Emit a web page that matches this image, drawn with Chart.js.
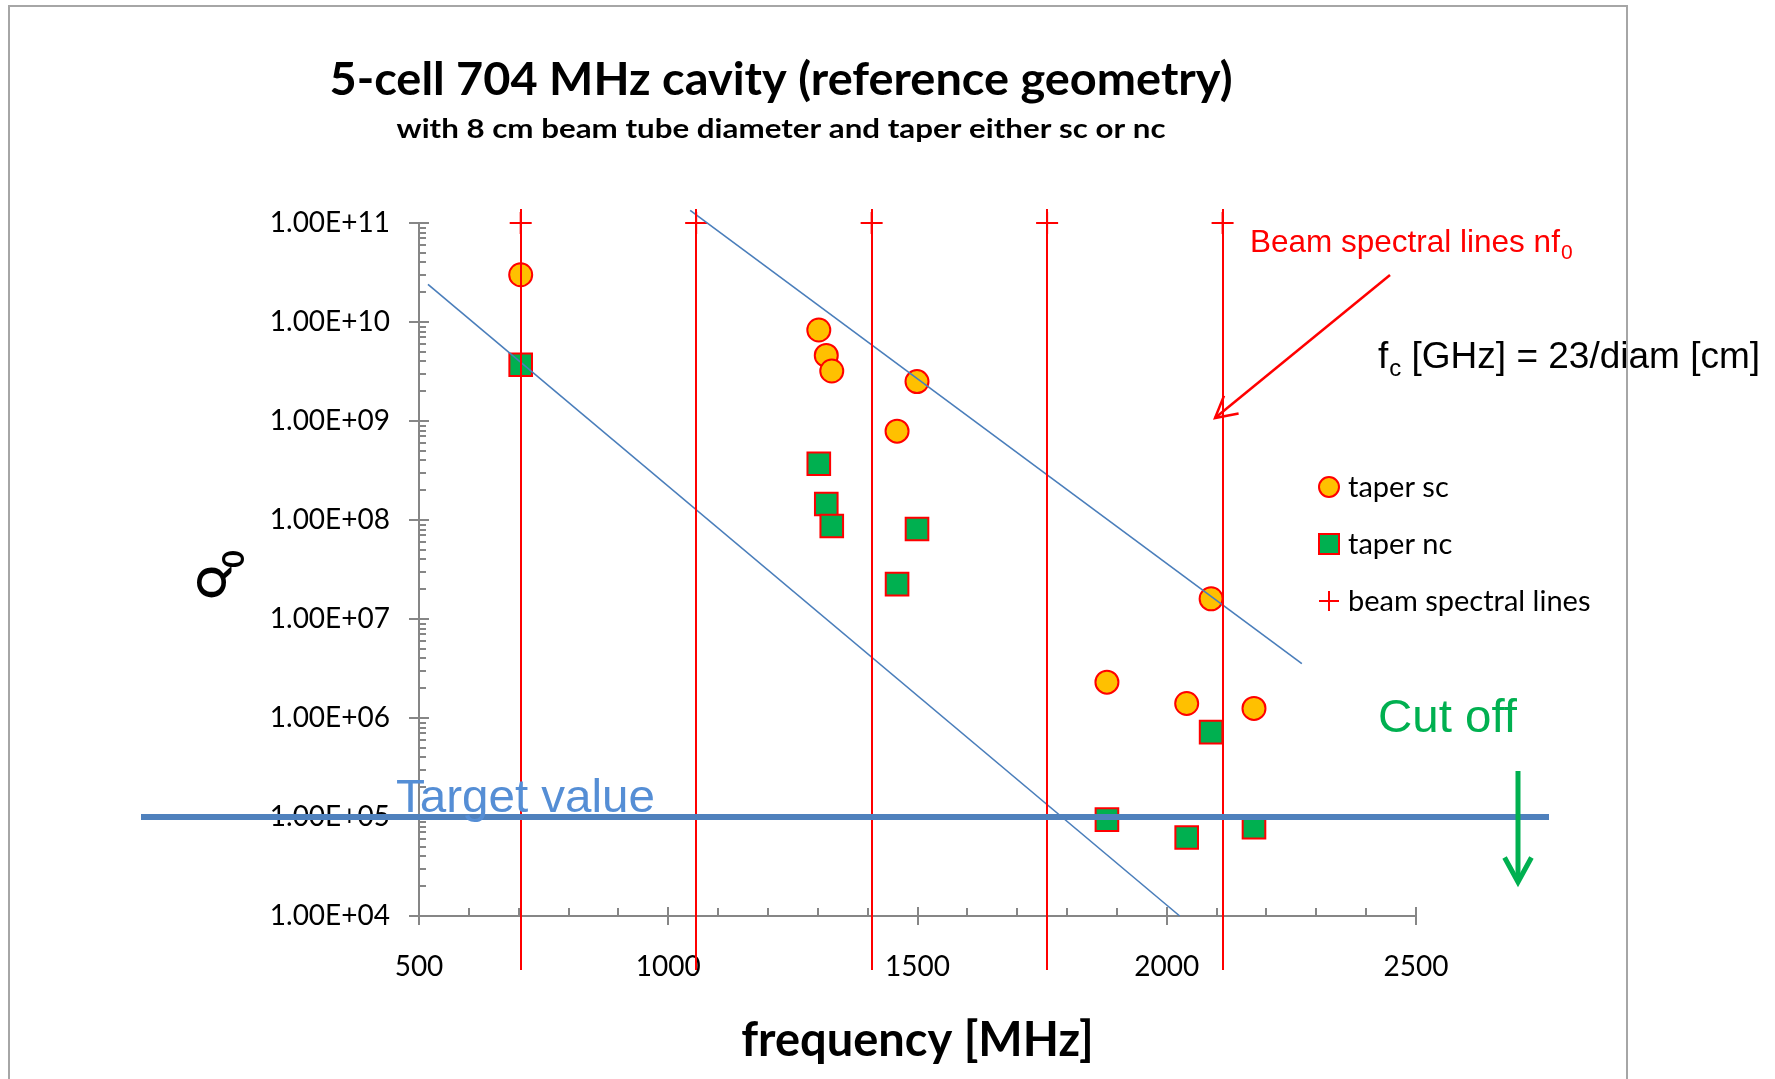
<!DOCTYPE html>
<html>
<head>
<meta charset="utf-8">
<title>5-cell 704 MHz cavity</title>
<script src="https://cdn.jsdelivr.net/npm/chart.js@4.4.0/dist/chart.umd.min.js"></script>
<style>
  html, body { margin: 0; padding: 0; background: #fff; }
</style>
</head>
<body>
<canvas id="qChart" width="1775" height="1079"></canvas>
<script>
// mode frequencies [MHz]
var modeFreq = [704, 1302, 1317, 1328, 1499, 1459, 2089, 1880, 2040, 2175];
// Q0 with superconducting / normal conducting taper
var qTaperSc = [3.0e10, 8.3e9, 4.6e9, 3.2e9, 2.5e9, 7.9e8, 1.6e7, 2.3e6, 1.4e6, 1.25e6];
var qTaperNc = [3.7e9, 3.7e8, 1.45e8, 8.7e7, 8.1e7, 2.25e7, 7.2e5, 9.4e4, 6.2e4, 7.9e4];
// beam spectral lines n*f0
var specFreq = [704, 1056, 1408, 1760, 2112];
var specQ = [1e11, 1e11, 1e11, 1e11, 1e11];
// the two blue guide lines
var lineAFreq = [518, 2026];
var lineAQ = [2.4e10, 1.0e4];
var lineBFreq = [1044, 2271];
var lineBQ = [1.34e11, 3.55e6];
var targetQ = [1e5];
// axes
var xTicks = [500, 1000, 1500, 2000, 2500];
var xTickLabels = ['500', '1000', '1500', '2000', '2500'];
var yTicks = [1e4, 1e5, 1e6, 1e7, 1e8, 1e9, 1e10, 1e11];
var yTickLabels = ['1.00E+04', '1.00E+05', '1.00E+06', '1.00E+07', '1.00E+08', '1.00E+09', '1.00E+10', '1.00E+11'];

function pts(xs, ys) {
  return xs.map(function (x, i) { return { x: x, y: ys[i] }; });
}

function fitText(c, text, x, y, w, align) {
  var m = c.measureText(text).width;
  c.save();
  c.translate(x, y);
  c.scale(w / m, 1);
  c.textAlign = 'left';
  c.fillText(text, align === 'center' ? -m / 2 : 0, 0);
  c.restore();
}

function marker(c, ds, x, y) {
  c.save();
  c.lineWidth = ds.borderWidth;
  c.strokeStyle = ds.borderColor;
  c.fillStyle = ds.backgroundColor || 'transparent';
  c.beginPath();
  if (ds.pointStyle === 'circle') {
    c.arc(x, y, 10, 0, Math.PI * 2);
    c.fill(); c.stroke();
  } else if (ds.pointStyle === 'rect') {
    c.rect(x - 10, y - 10, 20, 20);
    c.fill(); c.stroke();
  } else {
    c.moveTo(x - 10, y); c.lineTo(x + 10, y);
    c.moveTo(x, y - 10); c.lineTo(x, y + 10);
    c.stroke();
  }
  c.restore();
}

function arrowHead(c, x0, y0, x1, y1, len) {
  var a = Math.atan2(y1 - y0, x1 - x0);
  c.beginPath();
  c.moveTo(x1 - len * Math.cos(a - 0.5), y1 - len * Math.sin(a - 0.5));
  c.lineTo(x1, y1);
  c.lineTo(x1 - len * Math.cos(a + 0.5), y1 - len * Math.sin(a + 0.5));
  c.stroke();
}

var decor = {
  id: 'decor',
  beforeDraw: function (chart) {
    var c = chart.ctx;
    c.save();
    c.fillStyle = '#fff';
    c.fillRect(0, 0, chart.width, chart.height);
    c.restore();
  },
  beforeDatasetsDraw: function (chart) {
    // tick marks, Excel style
    var c = chart.ctx, xs = chart.scales.x, ys = chart.scales.y, a = chart.chartArea;
    c.save();
    c.strokeStyle = '#868686';
    c.lineWidth = 2;
    c.beginPath();
    xTicks.forEach(function (v) {
      var px = Math.round(xs.getPixelForValue(v));
      c.moveTo(px, a.bottom - 9); c.lineTo(px, a.bottom + 9);
    });
    for (var f = 600; f < 2500; f += 100) {
      if (f % 500 === 0) continue;
      var px = Math.round(xs.getPixelForValue(f));
      c.moveTo(px, a.bottom - 8); c.lineTo(px, a.bottom);
    }
    yTicks.forEach(function (d, i) {
      var py = Math.round(ys.getPixelForValue(d));
      c.moveTo(a.left - 10, py); c.lineTo(a.left + 10, py);
      if (i < yTicks.length - 1) {
        for (var k = 2; k < 10; k++) {
          var pm = Math.round(ys.getPixelForValue(k * d));
          c.moveTo(a.left, pm); c.lineTo(a.left + 7, pm);
        }
      }
    });
    c.stroke();
    c.restore();
  },
  afterDatasetsDraw: function (chart) {
    var c = chart.ctx, xs = chart.scales.x, ys = chart.scales.y, a = chart.chartArea;
    c.save();
    c.strokeStyle = '#FF0000';
    c.lineWidth = 2;
    specFreq.forEach(function (f) {
      var px = Math.round(xs.getPixelForValue(f));
      c.beginPath(); c.moveTo(px, a.top - 14); c.lineTo(px, a.bottom + 54); c.stroke();
    });
    var ty = ys.getPixelForValue(targetQ[0]);
    c.strokeStyle = '#4F81BD';
    c.lineWidth = 6;
    c.beginPath(); c.moveTo(a.left - 278, ty); c.lineTo(a.right + 133, ty); c.stroke();
    c.restore();
  },
  afterDraw: function (chart) {
    var c = chart.ctx;
    c.save();
    c.textBaseline = 'alphabetic';

    // titles
    c.fillStyle = '#000';
    c.font = 'bold 46px Lato';
    fitText(c, '5-cell 704 MHz cavity (reference geometry)', 781, 95, 903, 'center');
    c.font = 'bold 26px Lato';
    fitText(c, 'with 8 cm beam tube diameter and taper either sc or nc', 781, 138, 769, 'center');

    // Q0 axis title
    c.save();
    c.translate(226, 599);
    c.rotate(-Math.PI / 2);
    c.font = 'bold 41px Lato';
    c.textAlign = 'left';
    c.fillText('Q', 0, 0);
    var qw = c.measureText('Q').width;
    c.font = 'bold 30px Lato';
    c.fillText('0', qw - 2, 18);
    c.restore();

    // annotations
    c.textAlign = 'left';
    c.fillStyle = '#558ED5';
    c.font = '47px "Liberation Sans", Arial, sans-serif';
    fitText(c, 'Target value', 396, 812, 259, 'left');
    c.fillStyle = '#00B050';
    fitText(c, 'Cut off', 1378, 732, 139, 'left');

    c.fillStyle = '#FF0000';
    c.font = '31.5px "Liberation Sans", Arial, sans-serif';
    c.fillText('Beam spectral lines nf', 1250, 252);
    var bw = c.measureText('Beam spectral lines nf').width;
    c.font = '21px "Liberation Sans", Arial, sans-serif';
    c.fillText('0', 1250 + bw + 1, 259);

    c.fillStyle = '#000';
    c.font = '37px "Liberation Sans", Arial, sans-serif';
    c.fillText('f', 1378, 368);
    var fw = c.measureText('f').width;
    c.font = '24px "Liberation Sans", Arial, sans-serif';
    c.fillText('c', 1378 + fw + 1, 376);
    var cw = c.measureText('c').width;
    c.font = '37px "Liberation Sans", Arial, sans-serif';
    c.fillText(' [GHz] = 23/diam [cm]', 1378 + fw + 1 + cw, 368);

    // arrows
    c.strokeStyle = '#FF0000';
    c.lineWidth = 2.5;
    c.beginPath(); c.moveTo(1390, 275); c.lineTo(1215, 418); c.stroke();
    arrowHead(c, 1390, 275, 1215, 418, 24);
    c.strokeStyle = '#00B050';
    c.lineWidth = 5;
    c.beginPath(); c.moveTo(1518, 771); c.lineTo(1518, 880); c.stroke();
    arrowHead(c, 1518, 771, 1518, 882, 28);

    // legend
    var legY = [487, 544, 601];
    c.font = '29px Lato';
    c.textBaseline = 'middle';
    chart.data.datasets.slice(0, 3).forEach(function (ds, i) {
      marker(c, ds, 1329, legY[i]);
      c.fillStyle = '#000';
      c.fillText(ds.label, 1348, legY[i] + 1);
    });

    // outer frame
    c.strokeStyle = '#A6A6A6';
    c.lineWidth = 2;
    c.beginPath();
    c.moveTo(9, chart.height); c.lineTo(9, 6); c.lineTo(1627, 6); c.lineTo(1627, chart.height);
    c.stroke();
    c.restore();
  }
};

var ctxQ = document.getElementById('qChart').getContext('2d');
var qChart = new Chart(ctxQ, {
  type: 'scatter',
  data: {
    datasets: [
      {
        label: 'taper sc',
        data: pts(modeFreq, qTaperSc),
        pointStyle: 'circle',
        pointRadius: 11.5,
        backgroundColor: '#FFC000',
        borderColor: '#FF0000',
        borderWidth: 2,
        pointBackgroundColor: '#FFC000',
        pointBorderColor: '#FF0000',
        pointBorderWidth: 2,
        clip: false,
        order: 3
      },
      {
        label: 'taper nc',
        data: pts(modeFreq, qTaperNc),
        pointStyle: 'rect',
        pointRadius: 16,
        backgroundColor: '#00B050',
        borderColor: '#FF0000',
        borderWidth: 2,
        pointBackgroundColor: '#00B050',
        pointBorderColor: '#FF0000',
        pointBorderWidth: 2,
        clip: false,
        order: 3
      },
      {
        label: 'beam spectral lines',
        data: pts(specFreq, specQ),
        pointStyle: 'cross',
        pointRadius: 11,
        borderColor: '#FF0000',
        borderWidth: 2,
        pointBorderColor: '#FF0000',
        pointBorderWidth: 2,
        clip: false,
        order: 2
      },
      {
        label: 'guide A',
        data: pts(lineAFreq, lineAQ),
        showLine: true,
        borderColor: '#4A7EBB',
        borderWidth: 1.6,
        pointRadius: 0,
        clip: false,
        order: 1
      },
      {
        label: 'guide B',
        data: pts(lineBFreq, lineBQ),
        showLine: true,
        borderColor: '#4A7EBB',
        borderWidth: 1.6,
        pointRadius: 0,
        clip: false,
        order: 1
      }
    ]
  },
  options: {
    responsive: false,
    animation: false,
    events: [],
    layout: { padding: { left: 0, top: 223, right: 359, bottom: 0 } },
    plugins: {
      legend: { display: false },
      tooltip: { enabled: false },
      title: { display: false }
    },
    scales: {
      x: {
        type: 'linear',
        min: 500,
        max: 2500,
        grid: { display: false, drawTicks: false },
        border: { display: true, color: '#868686', width: 2 },
        ticks: {
          padding: 34,
          color: '#000',
          font: { family: 'Lato', size: 28 },
          autoSkip: false,
          maxRotation: 0,
          callback: function (v, i) { return xTickLabels[i]; }
        },
        afterBuildTicks: function (s) { s.ticks = xTicks.map(function (v) { return { value: v }; }); },
        afterFit: function (s) { s.height = 163; s.paddingLeft = 0; s.paddingRight = 0; },
        title: {
          display: true,
          text: 'frequency [MHz]',
          color: '#000',
          font: { family: 'Lato', size: 47, weight: 'bold' },
          padding: { top: 0, bottom: 10 }
        }
      },
      y: {
        type: 'logarithmic',
        min: 1e4,
        max: 1e11,
        grid: { display: false, drawTicks: false },
        border: { display: true, color: '#868686', width: 2 },
        ticks: {
          padding: 29,
          color: '#000',
          font: { family: 'Lato', size: 28 },
          autoSkip: false,
          callback: function (v, i) { return yTickLabels[i]; }
        },
        afterBuildTicks: function (s) { s.ticks = yTicks.map(function (v) { return { value: v }; }); },
        afterFit: function (s) { s.width = 419; s.paddingTop = 0; s.paddingBottom = 0; }
      }
    }
  },
  plugins: [decor]
});
</script>
</body>
</html>
